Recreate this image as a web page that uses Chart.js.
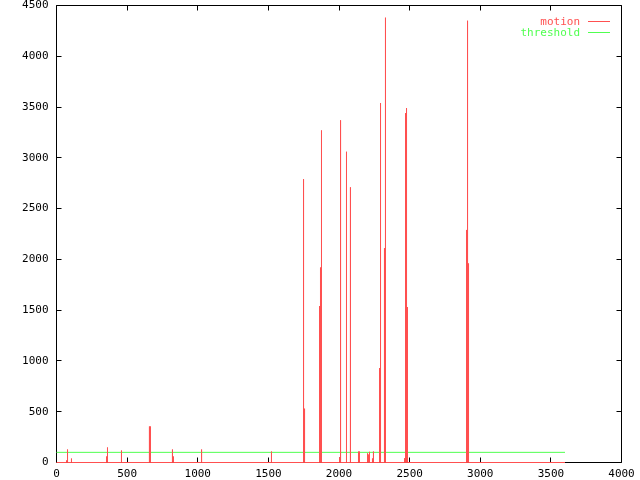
<!DOCTYPE html>
<html>
<head>
<meta charset="utf-8">
<script src="https://cdn.jsdelivr.net/npm/chart.js@4"></script>
<style>
html,body{margin:0;padding:0;background:#fff;}
canvas{display:block;}
</style>
</head>
<body>
<canvas id="c" width="640" height="480"></canvas>
<script>
// ---- data ----
const seriesNames = ["motion", "threshold"];
const motionX = [71, 78, 106, 354, 361, 460, 658, 665, 821, 828, 1027, 1522,
  1749, 1756, 1862, 1869, 1876, 2004, 2011, 2053, 2081, 2138, 2145, 2202, 2209, 2216,
  2237, 2244, 2287, 2294, 2322, 2329, 2464, 2471, 2478, 2485, 2903, 2910, 2917];
const motionY = [20, 128, 39, 59, 148, 118, 355, 355, 128, 59, 128, 108,
  2790, 530, 1540, 1920, 3270, 50, 3370, 3060, 2710, 108, 108, 90, 78, 105,
  40, 108, 930, 3540, 2110, 4380, 42, 3440, 3490, 1530, 2290, 4350, 1960];
const timeStart = 0;
const timeEnd = 3600;
const thresholdValue = 100;
const xTicks = [0, 500, 1000, 1500, 2000, 2500, 3000, 3500, 4000];
const yTicks = [0, 500, 1000, 1500, 2000, 2500, 3000, 3500, 4000, 4500];

const RED = '#ff5050';
const GREEN = '#50ff50';
const FONT = '"DejaVu Sans Mono", monospace';

// impulses: each sample is a vertical stroke from 0 to its value
const motionData = [{x: timeStart, y: 0}];
for (let i = 0; i < motionX.length; i++) {
  motionData.push({x: motionX[i], y: 0});
  motionData.push({x: motionX[i], y: motionY[i]});
  motionData.push({x: motionX[i], y: 0});
}
motionData.push({x: timeEnd, y: 0});
const thresholdData = [{x: timeStart, y: thresholdValue}, {x: timeEnd, y: thresholdValue}];

const frame = {
  id: 'frame',
  beforeDatasetsDraw(chart) {
    const {ctx, chartArea: a, scales} = chart;
    ctx.save();
    ctx.strokeStyle = '#000';
    ctx.lineWidth = 1;
    ctx.beginPath();
    ctx.rect(a.left, a.top, a.right - a.left, a.bottom - a.top);
    const tl = 5;
    xTicks.forEach(v => {
      const px = Math.round(scales.x.getPixelForValue(v) - 0.5) + 0.5;
      ctx.moveTo(px, a.bottom); ctx.lineTo(px, a.bottom - tl);
      ctx.moveTo(px, a.top); ctx.lineTo(px, a.top + tl);
    });
    yTicks.forEach(v => {
      const py = Math.round(scales.y.getPixelForValue(v) - 0.5) + 0.5;
      ctx.moveTo(a.left, py); ctx.lineTo(a.left + tl, py);
      ctx.moveTo(a.right, py); ctx.lineTo(a.right - tl, py);
    });
    ctx.stroke();
    ctx.restore();
  },
  afterDraw(chart) {
    const {ctx} = chart;
    ctx.save();
    ctx.font = '11px ' + FONT;
    ctx.textAlign = 'right';
    ctx.textBaseline = 'middle';
    const cols = [RED, GREEN];
    seriesNames.forEach((n, i) => {
      const y = 21.5 + i * 11;
      ctx.fillStyle = cols[i];
      ctx.fillText(n, 580, y + 0.5);
      ctx.strokeStyle = cols[i];
      ctx.lineWidth = 1;
      ctx.beginPath();
      ctx.moveTo(588, y); ctx.lineTo(610, y);
      ctx.stroke();
    });
    ctx.restore();
  }
};

new Chart(document.getElementById('c'), {
  type: 'line',
  data: {
    datasets: [
      {label: seriesNames[0], data: motionData, borderColor: RED, borderWidth: 1,
       pointRadius: 0, fill: false, tension: 0, clip: 3, order: 1},
      {label: seriesNames[1], data: thresholdData, borderColor: GREEN, borderWidth: 1,
       pointRadius: 0, fill: false, tension: 0, clip: 3, order: 2}
    ]
  },
  options: {
    responsive: false,
    animation: false,
    events: [],
    layout: {autoPadding: false, padding: {left: 0, right: 18.5, top: 5.5, bottom: 0}},
    plugins: {legend: {display: false}, tooltip: {enabled: false}},
    scales: {
      x: {
        type: 'linear', min: 0, max: 4000,
        afterBuildTicks: s => { s.ticks = xTicks.map(v => ({value: v})); },
        afterFit: s => { s.height = 17.5; s.paddingLeft = 0; s.paddingRight = 0; s.paddingTop = 0; s.paddingBottom = 0; },
        grid: {display: false, drawTicks: false},
        border: {display: false},
        ticks: {color: '#000', font: {family: FONT, size: 11}, padding: 5, maxRotation: 0, autoSkip: false,
                callback: v => String(v)}
      },
      y: {
        type: 'linear', min: 0, max: 4500,
        afterBuildTicks: s => { s.ticks = yTicks.map(v => ({value: v})); },
        afterFit: s => { s.width = 56.5; s.paddingLeft = 0; s.paddingRight = 0; s.paddingTop = 0; s.paddingBottom = 0; },
        grid: {display: false, drawTicks: false},
        border: {display: false},
        ticks: {color: '#000', font: {family: FONT, size: 11}, padding: 8, autoSkip: false,
                callback: v => String(v)}
      }
    }
  },
  plugins: [frame]
});
</script>
</body>
</html>
